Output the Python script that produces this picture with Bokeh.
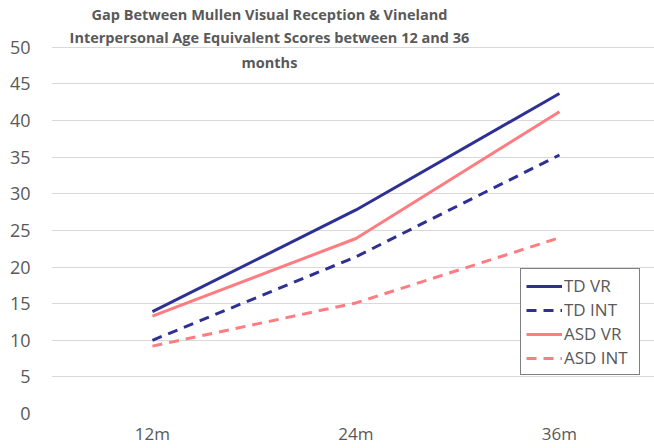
from bokeh.plotting import figure
from bokeh.models import Range1d, FixedTicker, Label, Legend, LegendItem
from bokeh.embed import file_html
from bokeh.resources import INLINE

categories = ["12m", "24m", "36m"]
td_vr = [13.9, 27.8, 43.7]
td_int = [10.0, 21.4, 35.3]
asd_vr = [13.3, 23.9, 41.2]
asd_int = [9.2, 15.1, 24.0]
y_ticks = [0, 5, 10, 15, 20, 25, 30, 35, 40, 45, 50]
title_lines = ["Gap Between Mullen Visual Reception & Vineland",
               "Interpersonal Age Equivalent Scores between 12 and 36",
               "months"]

NAVY = "#2E3192"
SALMON = "#FF7C80"
GRAY = "#595959"
FONT = "Open Sans"

xs = list(range(len(categories)))

p = figure(width=654, height=448, output_backend="svg", toolbar_location=None,
           x_range=Range1d(-0.496, 2.467), y_range=Range1d(0, 56.4),
           min_border_left=51, min_border_right=0, min_border_top=0, min_border_bottom=35)
p.outline_line_color = None
p.background_fill_color = "white"
p.border_fill_color = "white"

p.xgrid.grid_line_color = None
p.ygrid.grid_line_color = "#D9D9D9"
p.ygrid.grid_line_width = 1

p.yaxis.ticker = FixedTicker(ticks=y_ticks)
p.xaxis.ticker = FixedTicker(ticks=xs)
p.xaxis.major_label_overrides = {i: c for i, c in enumerate(categories)}
for ax in (p.xaxis[0], p.yaxis[0]):
    ax.axis_line_color = None
    ax.major_tick_line_color = None
    ax.minor_tick_line_color = None
    ax.major_tick_out = 0
    ax.major_tick_in = 0
    ax.minor_tick_out = 0
    ax.minor_tick_in = 0
    ax.major_label_text_color = GRAY
    ax.major_label_text_font = FONT
p.yaxis.major_label_text_font_size = "18px"
p.xaxis.major_label_text_font_size = "17px"
p.yaxis.major_label_standoff = 21
p.xaxis.major_label_standoff = 8

r1 = p.line(xs, td_vr, line_color=NAVY, line_width=3)
r2 = p.line(xs, td_int, line_color=NAVY, line_width=3, line_dash="10 7")
r3 = p.line(xs, asd_vr, line_color=SALMON, line_width=3)
r4 = p.line(xs, asd_int, line_color=SALMON, line_width=3, line_dash="10 7")

legend = Legend(items=[LegendItem(label="TD VR", renderers=[r1]),
                       LegendItem(label="TD INT", renderers=[r2]),
                       LegendItem(label="ASD VR", renderers=[r3]),
                       LegendItem(label="ASD INT", renderers=[r4])],
                location=(469, 38))
legend.border_line_color = "black"
legend.border_line_width = 1
legend.background_fill_color = "white"
legend.background_fill_alpha = 1
legend.label_text_font = FONT
legend.label_text_font_size = "17px"
legend.label_text_color = GRAY
legend.glyph_width = 36
legend.glyph_height = 20
legend.label_height = 20
legend.label_width = 70
legend.label_standoff = 2
legend.spacing = 1
legend.padding = 5
legend.margin = 0
p.add_layout(legend, "center")

title_y = [54.5, 51.4, 48.0]
for line, ty in zip(title_lines, title_y):
    p.add_layout(Label(x=0.575, y=ty, text=line, text_align="center",
                       text_baseline="middle", text_font=FONT,
                       text_font_style="bold", text_font_size="14.5px",
                       text_color=GRAY))

open("out.html", "w").write(file_html(p, INLINE))
